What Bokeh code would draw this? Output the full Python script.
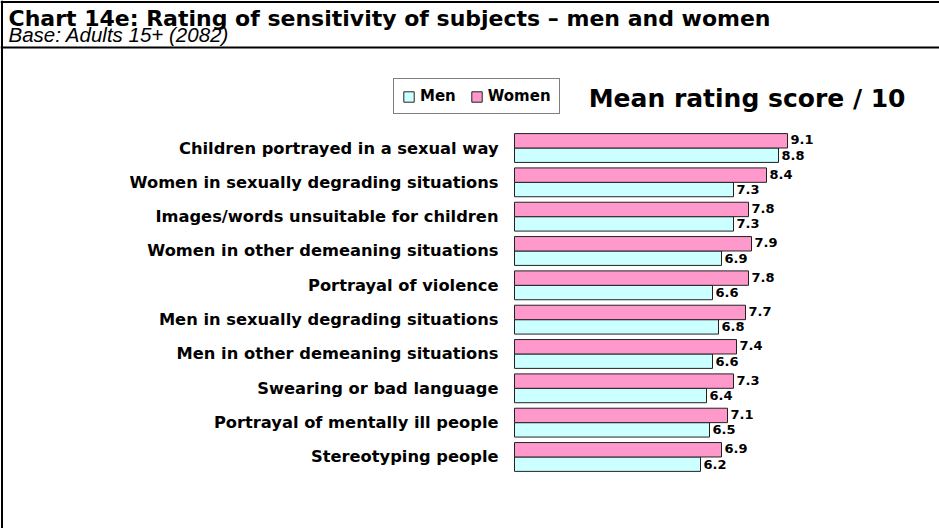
from bokeh.plotting import figure
from bokeh.models import Range1d, ColumnDataSource, Span, Legend, LegendItem, Label
from bokeh.core.properties import value
from bokeh.embed import file_html
from bokeh.resources import INLINE

# ---- data ----
categories = [
    "Children portrayed in a sexual way",
    "Women in sexually degrading situations",
    "Images/words unsuitable for children",
    "Women in other demeaning situations",
    "Portrayal of violence",
    "Men in sexually degrading situations",
    "Men in other demeaning situations",
    "Swearing or bad language",
    "Portrayal of mentally ill people",
    "Stereotyping people",
]
women = [9.1, 8.4, 7.8, 7.9, 7.8, 7.7, 7.4, 7.3, 7.1, 6.9]
men = [8.8, 7.3, 7.3, 6.9, 6.6, 6.8, 6.6, 6.4, 6.5, 6.2]

title_text = "Chart 14e: Rating of sensitivity of subjects \u2013 men and women"
subtitle_text = "Base:  Adults 15+ (2082)"
axis_title = "Mean rating score / 10"

W, H = 939, 528
FONT = "DejaVu Sans"
FONT2 = "Liberation Sans"
PINK = "#FF99CC"
CYAN = "#CCFFFF"

# layout: pixel <-> data conversion
X0, XS = 514.0, 30.0      # x pixel of value 0, pixels per unit
Y0, YS = 147.5, 34.33     # y pixel (from top) of first group centre, pixels per group


def xd(px):
    return (px - X0) / XS


def yd(py):
    return (py - Y0) / YS


p = figure(width=W, height=H, output_backend="svg", toolbar_location=None,
           x_range=Range1d(xd(0), xd(W)), y_range=Range1d(yd(H), yd(0)),
           min_border=0, min_border_left=0, min_border_right=0,
           min_border_top=0, min_border_bottom=0)
p.axis.visible = False
p.grid.visible = False
p.outline_line_color = None
p.background_fill_color = "white"
p.border_fill_color = "white"

idx = list(range(len(categories)))
BH = 0.42
src = ColumnDataSource(dict(
    cat=categories, women=women, men=men,
    yw=[i - BH / 2 for i in idx], ym=[i + BH / 2 for i in idx], yc=idx,
    wl=[f"{v:.1f}" for v in women], ml=[f"{v:.1f}" for v in men],
))

rm = p.hbar(y="ym", left=0, right="men", height=BH, source=src,
            fill_color=CYAN, line_color="#222222", line_width=1)
rw = p.hbar(y="yw", left=0, right="women", height=BH, source=src,
            fill_color=PINK, line_color="#222222", line_width=1)

p.text(x=xd(498), y="yc", text="cat", source=src, text_align="right",
       text_baseline="middle", text_font=value(FONT), text_font_size="16.3px",
       text_font_style="bold", text_color="black")

p.text(x="women", y="yw", text="wl", source=src, x_offset=3, y_offset=-1,
       text_align="left", text_baseline="middle", text_font=value(FONT),
       text_font_size="13px", text_font_style="bold", text_color="black")
p.text(x="men", y="ym", text="ml", source=src, x_offset=3, y_offset=0,
       text_align="left", text_baseline="middle", text_font=value(FONT),
       text_font_size="13px", text_font_style="bold", text_color="black")

# title block
p.add_layout(Label(x=xd(8), y=yd(18), text=title_text, text_font=FONT,
                   text_font_size="22px", text_font_style="bold", text_color="black",
                   text_baseline="middle", text_align="left"))
p.add_layout(Label(x=xd(8), y=yd(34), text=subtitle_text, text_font=FONT2,
                   text_font_size="20.5px", text_font_style="italic", text_color="black",
                   text_baseline="middle", text_align="left"))
p.add_layout(Label(x=xd(905), y=yd(98), text=axis_title, text_font=FONT,
                   text_font_size="25px", text_font_style="bold", text_color="black",
                   text_baseline="middle", text_align="right"))

# frame lines
p.add_layout(Span(location=yd(1.5), dimension="width", line_color="black", line_width=2))
p.add_layout(Span(location=yd(47), dimension="width", line_color="black", line_width=2))
p.add_layout(Span(location=xd(1.5), dimension="height", line_color="black", line_width=2))

legend = Legend(items=[LegendItem(label="Men", renderers=[rm]),
                       LegendItem(label="Women", renderers=[rw])],
                orientation="horizontal", location=(393, H - 114),
                label_text_font=FONT, label_text_font_size="15px",
                label_text_font_style="bold", label_text_color="black",
                glyph_width=13, glyph_height=13,
                label_standoff=5, spacing=14, padding=8, margin=0,
                border_line_color="black", border_line_width=1,
                background_fill_alpha=1)
p.add_layout(legend, "center")

open("out.html", "w").write(file_html(p, INLINE))
